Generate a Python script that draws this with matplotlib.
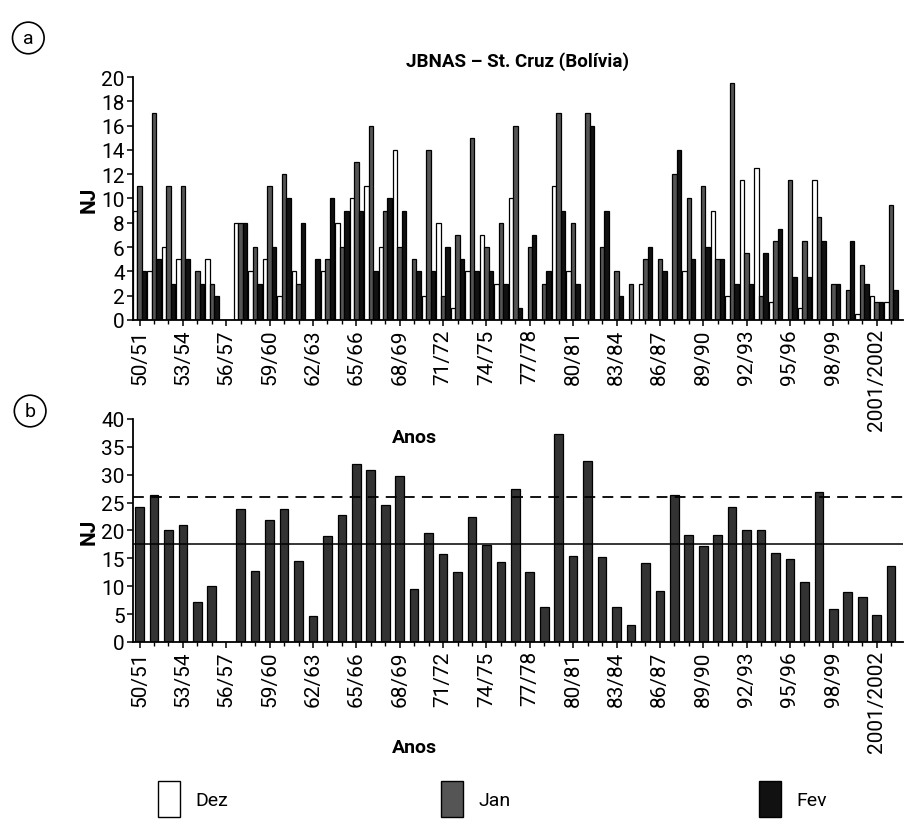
import matplotlib.pyplot as plt
import numpy as np
from matplotlib.patches import Patch

plt.rcParams['font.family'] = ['Roboto', 'DejaVu Sans']

# numero de dias por mes em cada estacao (50/51 ... 2002/03)
dez = [9, 4, 6, 5, 0, 5, 0, 8, 4, 5, 2, 4, 0, 4, 8, 10, 11, 6, 14, 0,
       2, 8, 1, 4, 7, 3, 10, 0, 0, 11, 4, 0, 0, 0, 0, 3, 0, 0, 4, 0,
       9, 2, 11.5, 12.5, 1.5, 0, 1, 11.5, 0, 0, 0.5, 2, 1.5]
jan = [11, 17, 11, 11, 4, 3, 0, 8, 6, 11, 12, 3, 0, 5, 6, 13, 16, 9, 6, 5,
       14, 2, 7, 15, 6, 8, 16, 6, 3, 17, 8, 17, 6, 4, 3, 5, 5, 12, 10, 11,
       5, 19.5, 5.5, 2, 6.5, 11.5, 6.5, 8.5, 3, 2.5, 4.5, 1.5, 9.5]
fev = [4, 5, 3, 5, 3, 2, 0, 8, 3, 6, 10, 8, 5, 10, 9, 9, 4, 10, 9, 4,
       4, 6, 5, 4, 4, 3, 1, 7, 4, 9, 3, 16, 9, 2, 0, 6, 4, 14, 5, 6,
       5, 3, 3, 5.5, 7.5, 3.5, 3.5, 6.5, 3, 6.5, 3, 1.5, 2.5]

# total da estacao
total = [24.2, 26.4, 20.1, 21, 7.2, 10, 0, 23.9, 12.8, 21.8,
         23.9, 14.6, 4.7, 19, 22.8, 32, 30.8, 24.6, 29.7, 9.5,
         19.6, 15.7, 12.6, 22.4, 17.4, 14.4, 27.5, 12.5, 6.3, 37.3,
         15.4, 32.5, 15.2, 6.3, 3.1, 14.1, 9.2, 26.3, 19.2, 17.3,
         19.1, 24.2, 20, 20, 16, 14.9, 10.8, 26.9, 5.9, 9,
         8, 4.9, 13.7]
media = 17.6
limite = 26.0

tick_labels = ['50/51', '53/54', '56/57', '59/60', '62/63', '65/66', '68/69',
               '71/72', '74/75', '77/78', '80/81', '83/84', '86/87', '89/90',
               '92/93', '95/96', '98/99', '2001/2002']

x = np.arange(len(total))

fig = plt.figure(figsize=(9.13, 8.29), dpi=100)
ax2 = fig.add_axes([0.1457, 0.2244, 0.843, 0.269])
ax1 = fig.add_axes([0.1457, 0.6128, 0.843, 0.2931])
ax2.set_facecolor('none')
ax1.set_facecolor('none')

w = 0.31
ax1.bar(x - w, dez, w, color='white', edgecolor='black', linewidth=0.9)
ax1.bar(x, jan, w, color='#555555', edgecolor='black', linewidth=0.9)
ax1.bar(x + w, fev, w, color='#111111', edgecolor='black', linewidth=0.9)

ax2.bar(x, total, 0.6, color='#333333', edgecolor='black', linewidth=0.9)
ax2.axhline(limite, ls=(0, (6, 4)), color='black', lw=1.3)
ax2.axhline(media, color='black', lw=1.1)

for ax, top, step in ((ax1, 20, 2), (ax2, 40, 5)):
    ax.set_xlim(-0.45, 52.8)
    ax.set_ylim(0, top)
    ax.set_yticks(np.arange(0, top + 1, step))
    ax.set_xticks(x[::3][:len(tick_labels)])
    ax.set_xticklabels(tick_labels, rotation=90)
    ax.set_xticks(x, minor=True)
    ax.spines['top'].set_visible(False)
    ax.spines['right'].set_visible(False)
    ax.spines['left'].set_linewidth(1.3)
    ax.spines['bottom'].set_linewidth(1.3)
    ax.tick_params(axis='both', labelsize=15, length=4, width=1.1, pad=2)
    ax.tick_params(axis='x', which='minor', length=3, width=1.0)
    ax.set_ylabel('NJ', fontsize=15, fontweight='bold', labelpad=2)

ax1.set_title('JBNAS – St. Cruz (Bolívia)', fontsize=13.5, fontweight='bold', pad=8)

fig.text(0.4545, 0.4717, 'Anos', fontsize=14, fontweight='bold', ha='center', va='center')
fig.text(0.4545, 0.0977, 'Anos', fontsize=14, fontweight='bold', ha='center', va='center')

circ = dict(boxstyle='circle,pad=0.35', fc='white', ec='black', lw=1.2)
fig.text(0.031, 0.953, 'a', fontsize=14, ha='center', va='center', bbox=circ)
fig.text(0.033, 0.503, 'b', fontsize=14, ha='center', va='center', bbox=circ)

# legenda
items = [('Dez', 'white', 0.165), ('Jan', '#555555', 0.475), ('Fev', '#111111', 0.823)]
for name, col, xpos in items:
    h = Patch(facecolor=col, edgecolor='black', label=name)
    fig.legend(handles=[h], loc='center left', bbox_to_anchor=(xpos, 0.035),
               frameon=False, fontsize=14, handlelength=1.1, handleheight=2.5,
               handletextpad=0.8, borderaxespad=0)

fig.savefig('out.png', dpi=100)
